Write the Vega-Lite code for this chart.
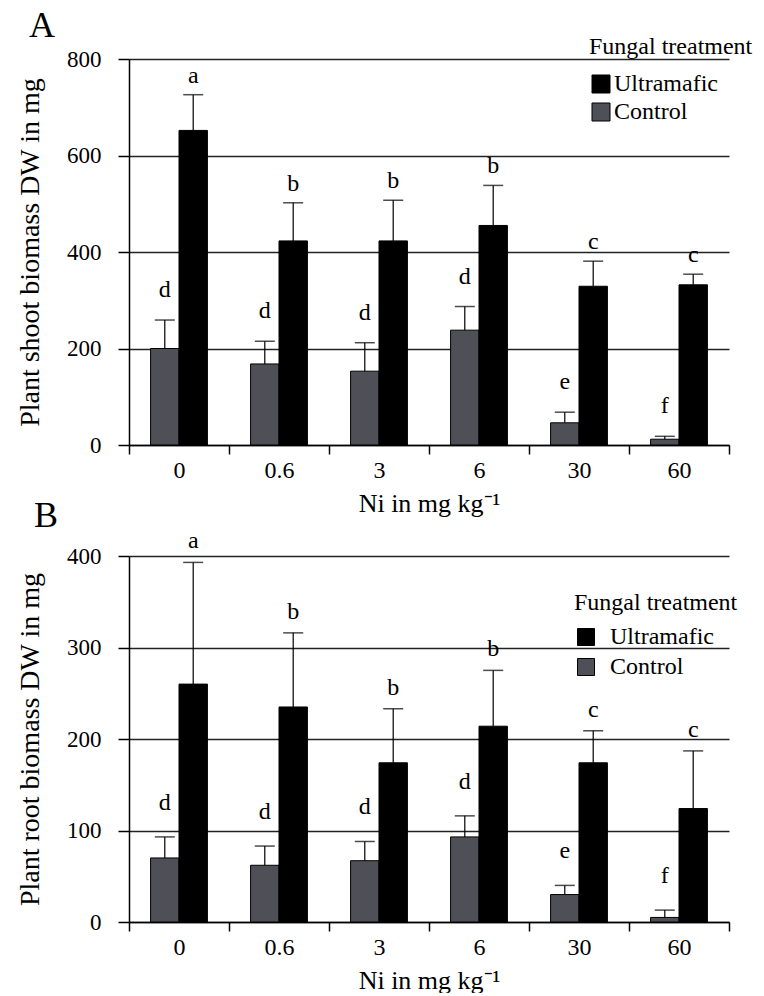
{
  "$schema": "https://vega.github.io/schema/vega-lite/v6.json",
  "padding": {"left": 16, "top": 8, "right": 0, "bottom": 0},
  "background": "white",
  "config": {
    "font": "Liberation Serif",
    "view": {"stroke": null},
    "style": {
      "guide-label": {"font": "Liberation Serif", "fill": "black"},
      "guide-title": {"font": "Liberation Serif", "fill": "black"},
      "group-title": {"font": "Liberation Serif"}
    },
    "axis": {
      "domainColor": "black", "domainWidth": 1.5,
      "tickColor": "black", "tickWidth": 1.5,
      "labelColor": "black", "titleColor": "black",
      "labelFont": "Liberation Serif", "titleFont": "Liberation Serif",
      "titleFontWeight": "normal"
    },
    "legend": {"labelFont": "Liberation Serif", "titleFont": "Liberation Serif"},
    "title": {"font": "Liberation Serif"}
  },
  "datasets": {
    "shootData": [
      {"ni": "0", "treatment": "Control", "mean": 200, "errTop": 259, "letter": "d"},
      {"ni": "0", "treatment": "Ultramafic", "mean": 652, "errTop": 726, "letter": "a"},
      {"ni": "0.6", "treatment": "Control", "mean": 168, "errTop": 215, "letter": "d"},
      {"ni": "0.6", "treatment": "Ultramafic", "mean": 423, "errTop": 502, "letter": "b"},
      {"ni": "3", "treatment": "Control", "mean": 153, "errTop": 212, "letter": "d"},
      {"ni": "3", "treatment": "Ultramafic", "mean": 423, "errTop": 507, "letter": "b"},
      {"ni": "6", "treatment": "Control", "mean": 238, "errTop": 287, "letter": "d"},
      {"ni": "6", "treatment": "Ultramafic", "mean": 455, "errTop": 538, "letter": "b"},
      {"ni": "30", "treatment": "Control", "mean": 46, "errTop": 68, "letter": "e"},
      {"ni": "30", "treatment": "Ultramafic", "mean": 329, "errTop": 381, "letter": "c"},
      {"ni": "60", "treatment": "Control", "mean": 12, "errTop": 18, "letter": "f"},
      {"ni": "60", "treatment": "Ultramafic", "mean": 332, "errTop": 354, "letter": "c"}
    ],
    "rootData": [
      {"ni": "0", "treatment": "Control", "mean": 70, "errTop": 93, "letter": "d"},
      {"ni": "0", "treatment": "Ultramafic", "mean": 260, "errTop": 393, "letter": "a"},
      {"ni": "0.6", "treatment": "Control", "mean": 62, "errTop": 83, "letter": "d"},
      {"ni": "0.6", "treatment": "Ultramafic", "mean": 235, "errTop": 316, "letter": "b"},
      {"ni": "3", "treatment": "Control", "mean": 67, "errTop": 88, "letter": "d"},
      {"ni": "3", "treatment": "Ultramafic", "mean": 174, "errTop": 233, "letter": "b"},
      {"ni": "6", "treatment": "Control", "mean": 93, "errTop": 116, "letter": "d"},
      {"ni": "6", "treatment": "Ultramafic", "mean": 214, "errTop": 275, "letter": "b"},
      {"ni": "30", "treatment": "Control", "mean": 30, "errTop": 40, "letter": "e"},
      {"ni": "30", "treatment": "Ultramafic", "mean": 174, "errTop": 209, "letter": "c"},
      {"ni": "60", "treatment": "Control", "mean": 5, "errTop": 13, "letter": "f"},
      {"ni": "60", "treatment": "Ultramafic", "mean": 124, "errTop": 187, "letter": "c"}
    ]
  },
  "spacing": -18,
  "resolve": {
    "scale": {"color": "independent", "x": "independent", "xOffset": "independent", "y": "independent"},
    "legend": {"color": "independent"}
  },
  "vconcat": [
    {
      "width": 600,
      "height": 386,
      "title": {"text": "A", "anchor": "start", "frame": "group", "font": "Liberation Serif", "fontSize": 36, "fontWeight": "normal", "dx": -100, "offset": -10},
      "data": {"name": "shootData"},
      "encoding": {
        "x": {
          "field": "ni", "type": "nominal",
          "sort": ["0", "0.6", "3", "6", "30", "60"],
          "scale": {"paddingInner": 0, "paddingOuter": 0},
          "axis": {"title": "Ni in mg kg⁻¹", "labelAngle": 0, "tickBand": "extent", "tickSize": 9,
                   "labelFont": "Liberation Serif", "titleFont": "Liberation Serif",
                   "labelFontSize": 24, "titleFontSize": 26, "labelPadding": 4, "titlePadding": 8}
        },
        "xOffset": {"field": "treatment", "type": "nominal",
                    "scale": {"domain": ["Control", "Ultramafic"], "paddingInner": 0, "paddingOuter": 0.76}}
      },
      "layer": [
        {
          "mark": {"type": "bar", "stroke": "black", "strokeWidth": 1},
          "encoding": {
            "y": {"field": "mean", "type": "quantitative",
                  "scale": {"domain": [0, 800]},
                  "axis": {"title": "Plant shoot biomass DW in mg", "values": [0, 200, 400, 600, 800],
                           "labelFont": "Liberation Serif", "titleFont": "Liberation Serif",
                           "grid": true, "gridColor": "#222222", "gridWidth": 1.5, "tickSize": 11,
                           "labelFontSize": 23, "titleFontSize": 28, "labelPadding": 17, "titlePadding": 22}},
            "color": {"field": "treatment", "type": "nominal",
                      "scale": {"domain": ["Ultramafic", "Control"], "range": ["#000000", "#4f4f57"]},
                      "legend": {"orient": "none", "legendX": 460, "legendY": -24, "title": "Fungal treatment",
                                 "labelFont": "Liberation Serif", "titleFont": "Liberation Serif",
                                 "titleFontSize": 24, "titleFontWeight": "normal", "labelFontSize": 24,
                                 "titleLimit": 400, "labelLimit": 400, "symbolType": "square", "symbolSize": 324,
                                 "symbolStrokeColor": "black", "symbolStrokeWidth": 1, "rowPadding": 4,
                                 "titlePadding": 13, "labelOffset": 1, "labelColor": "black", "titleColor": "black"}}
          }
        },
        {
          "mark": {"type": "rule", "strokeWidth": 1.2, "color": "black"},
          "encoding": {"y": {"field": "mean", "type": "quantitative"}, "y2": {"field": "errTop"}}
        },
        {
          "mark": {"type": "tick", "thickness": 1.5, "size": 20, "color": "black"},
          "encoding": {"y": {"field": "errTop", "type": "quantitative"}}
        },
        {
          "transform": [{"filter": "datum.treatment === 'Control'"}],
          "mark": {"type": "text", "font": "Liberation Serif", "fontSize": 24, "dy": -30, "baseline": "middle", "color": "black"},
          "encoding": {"y": {"field": "errTop", "type": "quantitative"}, "text": {"field": "letter"}}
        },
        {
          "transform": [{"filter": "datum.treatment === 'Ultramafic'"}],
          "mark": {"type": "text", "font": "Liberation Serif", "fontSize": 24, "dy": -19, "baseline": "middle", "color": "black"},
          "encoding": {"y": {"field": "errTop", "type": "quantitative"}, "text": {"field": "letter"}}
        }
      ]
    },
    {
      "width": 600,
      "height": 366,
      "title": {"text": "B", "anchor": "start", "frame": "group", "font": "Liberation Serif", "fontSize": 36, "fontWeight": "normal", "dx": -95, "offset": -6},
      "data": {"name": "rootData"},
      "encoding": {
        "x": {
          "field": "ni", "type": "nominal",
          "sort": ["0", "0.6", "3", "6", "30", "60"],
          "scale": {"paddingInner": 0, "paddingOuter": 0},
          "axis": {"title": "Ni in mg kg⁻¹", "labelAngle": 0, "tickBand": "extent", "tickSize": 9,
                   "labelFont": "Liberation Serif", "titleFont": "Liberation Serif",
                   "labelFontSize": 24, "titleFontSize": 26, "labelPadding": 4, "titlePadding": 8}
        },
        "xOffset": {"field": "treatment", "type": "nominal",
                    "scale": {"domain": ["Control", "Ultramafic"], "paddingInner": 0, "paddingOuter": 0.76}}
      },
      "layer": [
        {
          "mark": {"type": "bar", "stroke": "black", "strokeWidth": 1},
          "encoding": {
            "y": {"field": "mean", "type": "quantitative",
                  "scale": {"domain": [0, 400]},
                  "axis": {"title": "Plant root biomass DW in mg", "values": [0, 100, 200, 300, 400],
                           "labelFont": "Liberation Serif", "titleFont": "Liberation Serif",
                           "grid": true, "gridColor": "#222222", "gridWidth": 1.5, "tickSize": 11,
                           "labelFontSize": 23, "titleFontSize": 28, "labelPadding": 17, "titlePadding": 22}},
            "color": {"field": "treatment", "type": "nominal",
                      "scale": {"domain": ["Ultramafic", "Control"], "range": ["#000000", "#4f4f57"]},
                      "legend": {"orient": "none", "legendX": 445, "legendY": 35, "title": "Fungal treatment",
                                 "labelFont": "Liberation Serif", "titleFont": "Liberation Serif",
                                 "titleFontSize": 24, "titleFontWeight": "normal", "labelFontSize": 24,
                                 "titleLimit": 400, "labelLimit": 400, "symbolType": "square", "symbolSize": 289,
                                 "symbolStrokeColor": "black", "symbolStrokeWidth": 1, "rowPadding": 6,
                                 "titlePadding": 10, "labelOffset": 12, "labelColor": "black", "titleColor": "black"}}
          }
        },
        {
          "mark": {"type": "rule", "strokeWidth": 1.2, "color": "black"},
          "encoding": {"y": {"field": "mean", "type": "quantitative"}, "y2": {"field": "errTop"}}
        },
        {
          "mark": {"type": "tick", "thickness": 1.5, "size": 20, "color": "black"},
          "encoding": {"y": {"field": "errTop", "type": "quantitative"}}
        },
        {
          "transform": [{"filter": "datum.treatment === 'Control'"}],
          "mark": {"type": "text", "font": "Liberation Serif", "fontSize": 24, "dy": -34, "baseline": "middle", "color": "black"},
          "encoding": {"y": {"field": "errTop", "type": "quantitative"}, "text": {"field": "letter"}}
        },
        {
          "transform": [{"filter": "datum.treatment === 'Ultramafic'"}],
          "mark": {"type": "text", "font": "Liberation Serif", "fontSize": 24, "dy": -21, "baseline": "middle", "color": "black"},
          "encoding": {"y": {"field": "errTop", "type": "quantitative"}, "text": {"field": "letter"}}
        }
      ]
    }
  ]
}
